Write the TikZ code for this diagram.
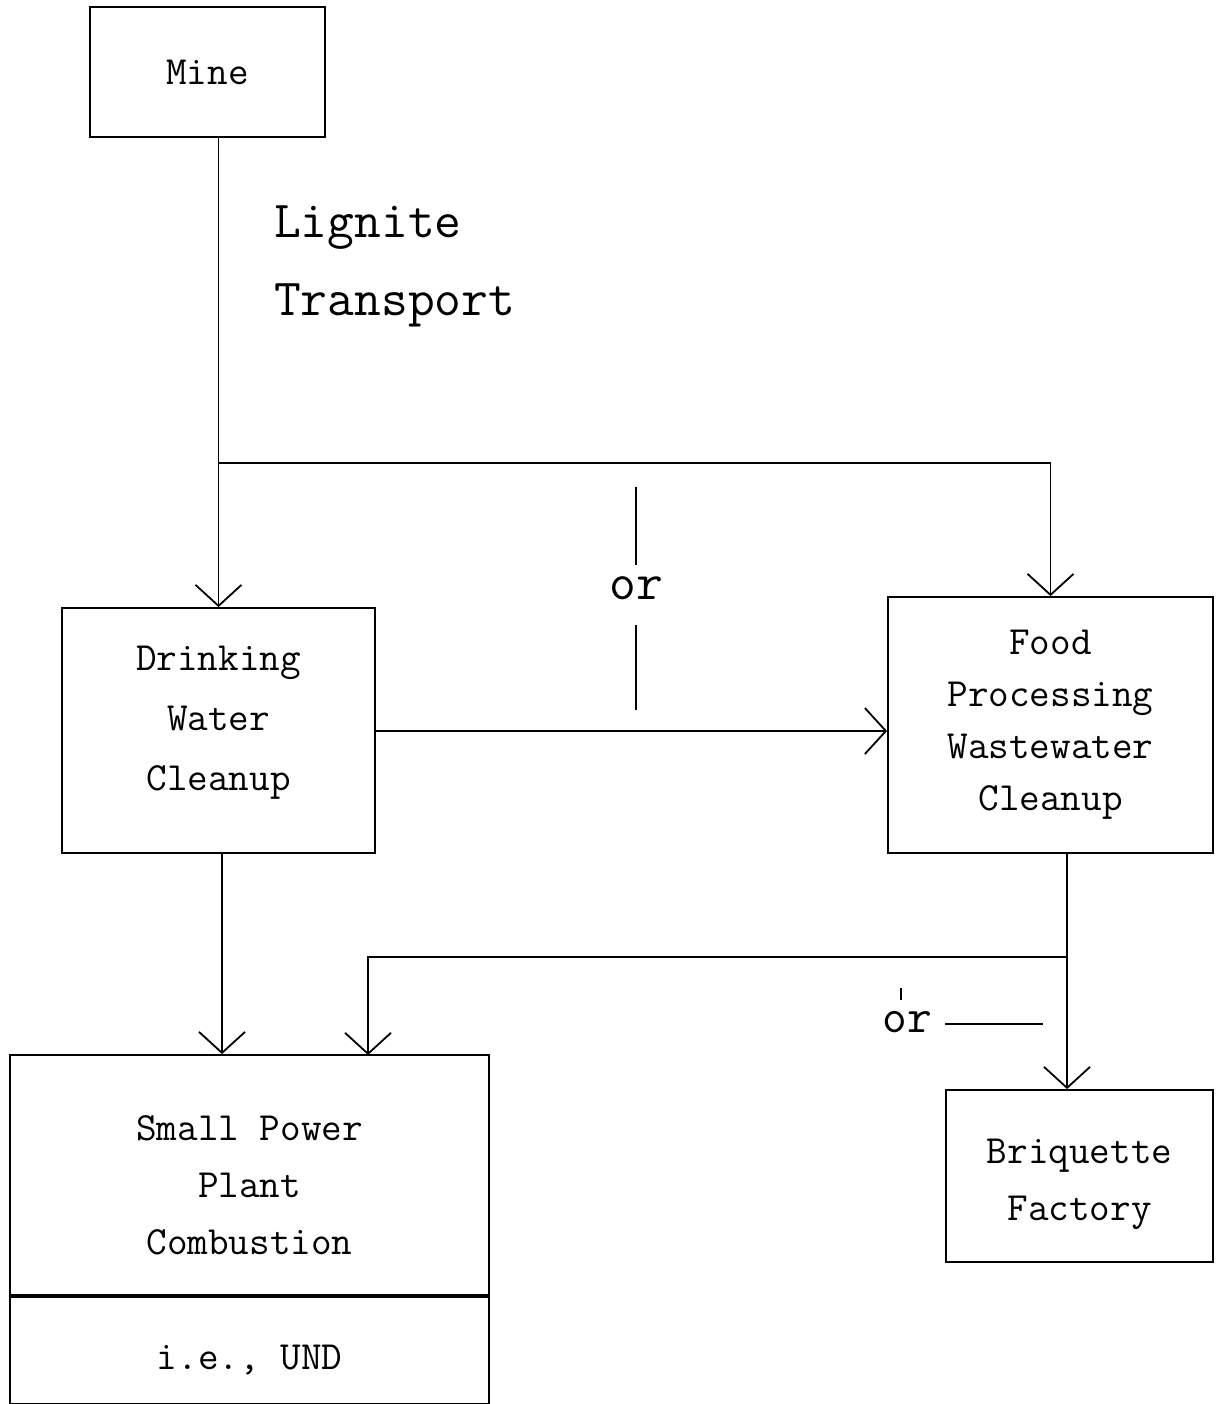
\documentclass[tikz,border=0pt]{standalone}
\usetikzlibrary{positioning,arrows.meta}

\newcommand{\boxfont}[1][56]{\ttfamily\fontsize{40}{#1}\selectfont}
\newcommand{\bigfont}{\ttfamily\fontsize{52}{72}\selectfont}
\newcommand{\pushdown}[1]{\rule{0pt}{#1}}
\newcommand{\pushup}[1]{\rule[-#1]{0pt}{0pt}}

\tikzset{
  box/.style={draw, rectangle, line width=1.8pt, inner sep=0pt, font=\boxfont, align=center},
  flow/.style={line width=1.8pt, -{Straight Barb[length=21pt,width=46pt,line width=1.8pt]}},
  plain/.style={line width=1.8pt},
}

\begin{document}
\begin{tikzpicture}[x=1pt,y=1pt,yscale=-1,xscale=1]
\useasboundingbox (0,0) rectangle (1228,1404);

% Boxes
\node [box, minimum width=235, minimum height=130] (mine) at (207.5,72) {Mine};
\node [box, minimum width=313, minimum height=245, font={\boxfont[60]}] (drink) at (218.5,730.5) {Drinking\\Water\\Cleanup\pushup{25pt}};
\node [box, minimum width=325, minimum height=256, font={\boxfont[52]}] (food) at (1050.5,725) {Food\\Processing\\Wastewater\\Cleanup};
\node [box, minimum width=479, minimum height=240, font={\boxfont[57]}] (power) at (249.5,1175) {\pushdown{45pt}Small Power\\Plant\\Combustion};
\node [box, minimum width=479, minimum height=107, below=0pt of power] (und) {\pushdown{44pt}i.e., UND};
\node [box, minimum width=267, minimum height=172, font={\boxfont[57]}] (briq) at (1079.5,1176) {\pushdown{42pt}Briquette\\Factory};

% Text Node
\node [anchor=base west, font=\bigfont, inner sep=0pt] (lignite) at (274,238) {Lignite};
\node [anchor=base west, font=\bigfont, inner sep=0pt] (transport) at ([yshift=78pt]lignite.base west) {Transport};

%Straight Lines
\coordinate (split) at (drink.north |- 0,463);
\draw [flow] (drink.north |- mine.south) -- (drink.north);
\draw [flow] (split) -| (food.north);
\draw [flow] (drink.east |- 0,731) -- (food.west |- 0,731);

% or, upper
\node [font=\bigfont, inner sep=0pt] (orA) at (636,588) {or};
\coordinate (orAtop) at (636,487);
\coordinate (orAbot) at (636,710);
\draw [plain] (orAtop) -- (636,565);
\draw [plain] (636,625) -- (orAbot);

%Straight Lines
\coordinate (drinkout) at ([xshift=3.5pt]drink.south);
\coordinate (foodout) at ([xshift=16.5pt]food.south);
\coordinate (split2) at (foodout |- 0,957);
\draw [flow] (drinkout) -- (drinkout |- power.north);
\draw [flow] (foodout) -- (foodout |- briq.north);
\draw [flow] (split2) -| (368,1055);

% or, lower
\node [font={\ttfamily\fontsize{48}{60}\selectfont}, inner sep=0pt] (orB) at (907,1022) {or};
\coordinate (orBtick) at (901,988);
\coordinate (orBend) at (1043,1024);
\draw [plain] (orBtick) -- (901,1000);
\draw [plain] (945,1024) -- (orBend);

\end{tikzpicture}
\end{document}
